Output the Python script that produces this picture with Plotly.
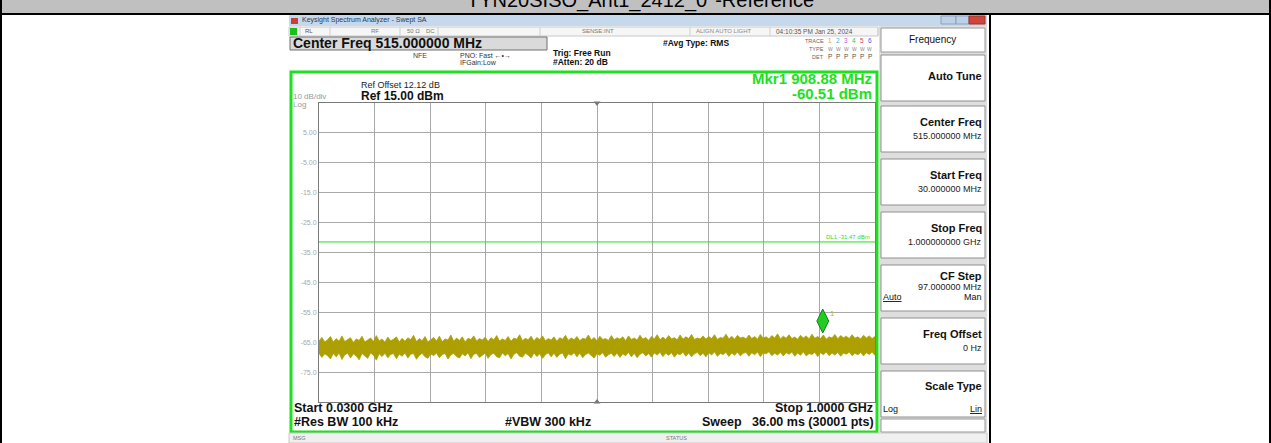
import numpy as np
import plotly.graph_objects as go

# ---------------- data ----------------
TITLE = "TYN20SISO_Ant1_2412_0°-Reference"
START_MHZ = 30.0
STOP_MHZ = 1000.0
CENTER_MHZ = 515.0
REF_DBM = 15.0
DB_PER_DIV = 10.0
N_DIV = 10
DL1_DBM = -31.47
MKR_MHZ = 908.88
MKR_DBM = -60.51

y_tick_vals = [5, -5, -15, -25, -35, -45, -55, -65, -75]
y_tick_text = ["5.00", "-5.00", "-15.0", "-25.0", "-35.0", "-45.0", "-55.0", "-65.0", "-75.0"]

# noise-band envelope (dBm), evenly spread over the sweep
trace_upper = [
    -64.6, -63.4, -64.9, -64.2, -63.1, -65.0, -63.8, -64.7, -62.9, -64.8, -64.1, -63.5, -65.1, -63.9, -64.4,
    -63.0, -64.9, -64.3, -63.6, -64.8, -62.8, -64.6, -63.9, -65.0, -63.3, -64.5, -64.0, -63.2, -64.9, -63.7,
    -64.7, -63.5, -64.2, -62.7, -64.8, -63.8, -64.5, -63.1, -64.9, -64.2, -63.4, -64.6, -63.0, -64.8, -63.9,
    -64.3, -62.6, -64.7, -63.6, -64.4, -63.2, -64.9, -63.7, -64.1, -62.9, -64.6, -63.8, -64.3, -63.3, -64.8,
    -63.5, -64.2, -62.8, -64.6, -63.9, -64.4, -63.1, -64.7, -63.6, -64.0, -62.5, -64.5, -63.7, -64.2, -63.0,
    -64.6, -63.4, -64.1, -62.9, -64.5, -63.8, -64.3, -63.2, -64.7, -63.5, -64.0, -62.7, -64.4, -63.6, -64.2,
    -63.1, -64.5, -63.7, -64.0, -62.6, -64.3, -63.4, -64.6, -63.0, -64.1, -63.8, -64.4, -62.8, -64.2, -63.5,
    -64.0, -63.2, -64.5, -62.9, -64.1, -63.6, -64.3, -62.7, -64.0, -63.4, -64.4, -63.1, -63.9, -62.5, -64.2,
    -63.3, -64.1, -62.8, -63.9, -63.5, -64.2, -62.6, -64.0, -63.2, -63.8, -62.4, -64.1, -63.6, -63.9, -62.9,
    -64.0, -63.1, -63.8, -62.5, -64.1, -63.4, -63.7, -62.3, -63.9, -63.0, -64.0, -62.7, -63.6, -63.3, -63.9,
    -62.6, -63.8, -63.1, -64.0, -62.4, -63.7, -63.2, -63.9, -62.8, -63.6, -62.2, -63.9, -63.0, -63.7, -62.5,
    -63.8, -63.3, -64.0, -62.7, -63.6, -62.9, -63.9, -62.3, -63.7, -63.1, -63.8, -62.6, -64.0, -63.2, -63.6,
    -62.4, -63.9, -62.8, -63.5, -63.0, -63.8, -62.5, -63.7, -63.2, -63.9, -62.7, -63.6, -62.9, -63.8, -63.1,
]
trace_lower = [
    -68.7, -70.1, -68.9, -69.5, -70.6, -68.8, -69.9, -68.6, -70.8, -69.2, -68.7, -70.3, -68.9, -69.6, -70.9,
    -68.8, -69.7, -70.4, -68.6, -69.3, -71.0, -68.9, -69.8, -68.7, -70.2, -69.1, -68.8, -70.5, -69.0, -69.7,
    -68.6, -70.3, -69.0, -68.8, -70.7, -69.4, -68.7, -69.9, -70.4, -68.9, -69.5, -68.6, -70.2, -69.1, -68.8,
    -70.6, -69.3, -68.7, -69.8, -70.3, -68.9, -69.6, -68.5, -70.5, -69.0, -68.8, -70.1, -69.4, -68.6, -70.4,
    -69.1, -68.7, -69.9, -70.2, -68.6, -69.5, -68.8, -70.6, -69.0, -68.5, -69.7, -70.0, -68.7, -69.3, -70.3,
    -68.6, -69.8, -68.9, -70.4, -69.2, -68.5, -69.9, -68.7, -70.1, -69.0, -68.6, -70.5, -68.9, -69.4, -68.5,
    -69.9, -68.7, -70.2, -69.1, -68.6, -69.6, -70.3, -68.8, -69.4, -68.5, -70.0, -69.2, -68.7, -69.8, -68.6,
    -70.1, -68.9, -69.5, -68.4, -69.9, -68.7, -70.2, -69.0, -68.5, -69.6, -68.8, -70.0, -68.6, -69.3, -68.4,
    -69.8, -68.7, -69.4, -68.5, -70.0, -68.8, -69.2, -68.3, -69.7, -68.6, -69.9, -68.9, -68.4, -69.5, -68.7,
    -69.9, -68.5, -69.3, -68.2, -69.7, -68.8, -69.1, -68.4, -69.8, -68.6, -69.4, -68.3, -69.6, -68.7, -68.4,
    -69.7, -68.5, -69.2, -68.3, -69.8, -68.6, -68.9, -68.2, -69.5, -68.7, -69.3, -68.4, -69.6, -68.5, -69.0,
    -68.3, -69.7, -68.6, -69.4, -68.2, -69.6, -68.8, -69.1, -68.4, -69.8, -68.5, -69.2, -68.3, -69.5, -68.6,
    -69.3, -68.4, -69.7, -68.6, -69.0, -68.3, -69.5, -68.7, -69.2, -68.4, -69.6, -68.5, -69.1, -68.3, -69.4,
]

softkeys = [
    ("Auto Tune", None),
    ("Center Freq", "515.000000 MHz"),
    ("Start Freq", "30.000000 MHz"),
    ("Stop Freq", "1.000000000 GHz"),
    ("CF Step", "97.000000 MHz"),
    ("Freq Offset", "0 Hz"),
    ("Scale Type", None),
]

# ---------------- geometry / style ----------------
W, H = 1271, 443
FONT = "Liberation Sans, Arial, sans-serif"
GREEN = "#1ee01e"
OLIVE = "#ad9f00"

def px(x):
    return x / W

def py(y):
    return 1 - y / H

shapes = []
anns = []

def rect(x0, y0, x1, y1, fill, line="rgba(0,0,0,0)", lw=1, layer="below"):
    shapes.append(dict(type="rect", xref="paper", yref="paper",
                       x0=px(x0), x1=px(x1), y0=py(y1), y1=py(y0),
                       fillcolor=fill, line=dict(color=line, width=lw), layer=layer))

def hline(x0, x1, y, color, lw=1, layer="below"):
    shapes.append(dict(type="line", xref="paper", yref="paper",
                       x0=px(x0), x1=px(x1), y0=py(y), y1=py(y),
                       line=dict(color=color, width=lw), layer=layer))

def vline(x, y0, y1, color, lw=1, layer="below"):
    shapes.append(dict(type="line", xref="paper", yref="paper",
                       x0=px(x), x1=px(x), y0=py(y0), y1=py(y1),
                       line=dict(color=color, width=lw), layer=layer))

def text(x, y, s, size=9, color="#111", bold=False, anchor="left", family=FONT):
    if bold:
        s = "<b>" + s + "</b>"
    anns.append(dict(xref="paper", yref="paper", x=px(x), y=py(y), text=s,
                     showarrow=False, xanchor=anchor, yanchor="middle",
                     font=dict(size=size, color=color, family=family),
                     borderpad=0))

# outer table / header
rect(0, 0, W, 13, "#c0c0c0")
hline(0, W, 14, "#000", 2)
vline(1, 0, H, "#000", 2)
vline(W - 1, 0, H, "#000", 2)
vline(990, 14, H, "#000", 2)
text(640, 1, TITLE, 20, "#000", anchor="center")

# analyzer window chrome
rect(289, 15, 987, H, "#ffffff")
rect(289, 15, 987, 26, "#c6d8ec")
rect(291, 18, 298, 24, "#c8403a")
text(301, 20.5, "Keysight Spectrum Analyzer - Swept SA", 7, "#2a3a50")
rect(941, 16, 956, 24, "#bcd0e8", "#8aa0bb")
rect(956, 16, 969, 24, "#bcd0e8", "#8aa0bb")
rect(969, 16, 985, 24, "#d0463c", "#a03028")

# status row
rect(289, 27, 878, 36, "#f6f6f6", "#c8c8c8")
for sx in [300, 330, 400, 438, 540, 690, 770, 878]:
    vline(sx, 27, 36, "#cfcfcf")
rect(290, 28, 297, 35, "#19c019")
text(304, 31.5, "RL", 6, "#555")
text(370, 31.5, "RF", 6, "#777")
text(406, 31.5, "50 Ω", 6, "#777")
text(425, 31.5, "DC", 6, "#777")
text(581, 31.5, "SENSE:INT", 6, "#777")
text(695, 31.5, "ALIGN AUTO LIGHT", 6, "#888")
text(775, 31.5, "04:10:35 PM Jan 25, 2024", 6.5, "#555")

# centre-freq entry box and settings
rect(290, 37, 547, 50, "#dadada", "#707070")
text(292, 43.5, "Center Freq 515.000000 MHz", 14, "#111", bold=True)
text(412, 55, "NFE", 7, "#444")
text(459, 55, "PNO: Fast ←•→", 7, "#333")
text(459, 62, "IFGain:Low", 7, "#333")
text(552, 53, "Trig: Free Run", 8.5, "#111", bold=True)
text(552, 62, "#Atten: 20 dB", 8.5, "#111", bold=True)
text(662, 43, "#Avg Type: RMS", 8.5, "#111", bold=True)
text(825, 41, "TRACE", 5.5, "#666", anchor="right")
text(825, 49, "TYPE", 5.5, "#666", anchor="right")
text(825, 57, "DET", 5.5, "#666", anchor="right")
trace_cols = ["#e0a030", "#40b0e0", "#c060d0", "#40c040", "#e04060", "#4060e0"]
for i, c in enumerate(trace_cols):
    text(830 + i * 8, 41, str(i + 1), 6.5, c, anchor="center")
    text(830 + i * 8, 49, "W", 5, "#888", anchor="center")
    text(830 + i * 8, 57, "P", 6.5, "#555", anchor="center")

# green measurement frame
rect(291, 72, 877, 432, "#ffffff", GREEN, 3)
text(873, 78, "Mkr1 908.88 MHz", 15, GREEN, bold=True, anchor="right")
text(873, 93, "-60.51 dBm", 15, GREEN, bold=True, anchor="right")
text(360, 85, "Ref Offset 12.12 dB", 9, "#222")
text(360, 96, "Ref 15.00 dBm", 12, "#111", bold=True)
text(292, 96, "10 dB/div", 8, "#999")
text(292, 104, "Log", 8, "#999")
text(293, 408, "Start 0.0300 GHz", 12.5, "#111", bold=True)
text(874, 408, "Stop 1.0000 GHz", 12.5, "#111", bold=True, anchor="right")
text(293, 422, "#Res BW 100 kHz", 12.5, "#111", bold=True)
text(504, 422, "#VBW 300 kHz", 12.5, "#111", bold=True)
text(875, 422, "Sweep&nbsp;&nbsp;&nbsp;36.00 ms (30001 pts)", 12.5, "#111", bold=True, anchor="right")

# bottom message bar
rect(289, 433, 987, H, "#f0f0f0", "#c8c8c8")
text(292, 438, "MSG", 5.5, "#777")
text(665, 438, "STATUS", 5.5, "#777")

# soft-key panel
rect(879, 26, 987, 433, "#dedede")
rect(881, 28, 985, 52, "#ffffff", "#9a9a9a")
text(933, 40, "Frequency", 10, "#111", anchor="center")
box_tops = [55, 106, 159, 212, 265, 318, 371]
for (title, val), top in zip(softkeys, box_tops):
    rect(881, top, 985, top + 46, "#ffffff", "#8f8f8f")
    if title == "Auto Tune":
        text(983, top + 21, title, 11, "#111", bold=True, anchor="right")
    elif title == "CF Step":
        text(983, top + 11, title, 11, "#111", bold=True, anchor="right")
        text(983, top + 22, val, 9, "#222", anchor="right")
        text(882, top + 32, "<u>Auto</u>", 9, "#111")
        text(983, top + 32, "Man", 9, "#111", anchor="right")
    elif title == "Scale Type":
        text(983, top + 15, title, 11, "#111", bold=True, anchor="right")
        text(882, top + 38, "Log", 9, "#111")
        text(983, top + 38, "<u>Lin</u>", 9, "#111", anchor="right")
    else:
        text(983, top + 16, title, 11, "#111", bold=True, anchor="right")
        text(983, top + 30, val, 9, "#222", anchor="right")
rect(881, 419, 985, 432, "#ffffff", "#9a9a9a")

# ---------------- plot ----------------
freq = np.linspace(START_MHZ, STOP_MHZ, len(trace_upper))
bottom = REF_DBM - DB_PER_DIV * N_DIV
fig = go.Figure()

fig.add_trace(go.Scatter(
    x=list(freq) + list(freq[::-1]),
    y=trace_upper + trace_lower[::-1],
    fill="toself", fillcolor=OLIVE, mode="lines",
    line=dict(color=OLIVE, width=0.8), hoverinfo="skip"))

# display line
fig.add_trace(go.Scatter(x=[START_MHZ, STOP_MHZ], y=[DL1_DBM, DL1_DBM], mode="lines",
                         line=dict(color=GREEN, width=1), hoverinfo="skip"))
anns.append(dict(xref="x", yref="y", x=STOP_MHZ, y=DL1_DBM, text="DL1 -31.47 dBm",
                 showarrow=False, xanchor="right", yanchor="bottom", xshift=-3,
                 font=dict(size=6, color=GREEN, family=FONT)))

# centre-frequency ticks
fig.add_trace(go.Scatter(x=[CENTER_MHZ, CENTER_MHZ], y=[REF_DBM, bottom], mode="markers",
                         marker=dict(symbol=["triangle-down", "triangle-up"], size=6,
                                     color="#777"),
                         cliponaxis=False, hoverinfo="skip"))

# marker 1
fig.add_trace(go.Scatter(x=[MKR_MHZ], y=[MKR_DBM + 2.6], mode="markers",
                         marker=dict(symbol="diamond-tall", size=17, color="#22cc22",
                                     line=dict(color="#118811", width=1)),
                         hoverinfo="skip"))
anns.append(dict(xref="x", yref="y", x=MKR_MHZ, y=MKR_DBM + 2.6, text="1",
                 showarrow=False, xanchor="left", yanchor="bottom", xshift=5, yshift=1,
                 font=dict(size=8, color="#c8b800", family=FONT)))

x_grid = [START_MHZ + (STOP_MHZ - START_MHZ) / N_DIV * k for k in range(1, N_DIV)]

fig.update_layout(
    width=W, height=H, margin=dict(l=0, r=0, t=0, b=0),
    paper_bgcolor="#ffffff", plot_bgcolor="rgba(0,0,0,0)",
    showlegend=False, shapes=shapes, annotations=anns,
    xaxis=dict(domain=[px(319), px(875)], range=[START_MHZ, STOP_MHZ],
               tickvals=x_grid, showticklabels=False, ticks="",
               showgrid=True, gridcolor="#a9a9a9", gridwidth=1, zeroline=False,
               showline=True, linecolor="#7a7a7a", linewidth=1, mirror=True,
               fixedrange=True),
    yaxis=dict(domain=[py(402), py(103)], range=[bottom, REF_DBM],
               tickvals=y_tick_vals, ticktext=y_tick_text, ticks="",
               tickfont=dict(size=7, color="#a8a8a8", family=FONT),
               showgrid=True, gridcolor="#a9a9a9", gridwidth=1, zeroline=False,
               showline=True, linecolor="#7a7a7a", linewidth=1, mirror=True,
               fixedrange=True),
)

fig.write_html("out.html", post_script="document.body.style.margin='0px';",
               config={"displayModeBar": False})
